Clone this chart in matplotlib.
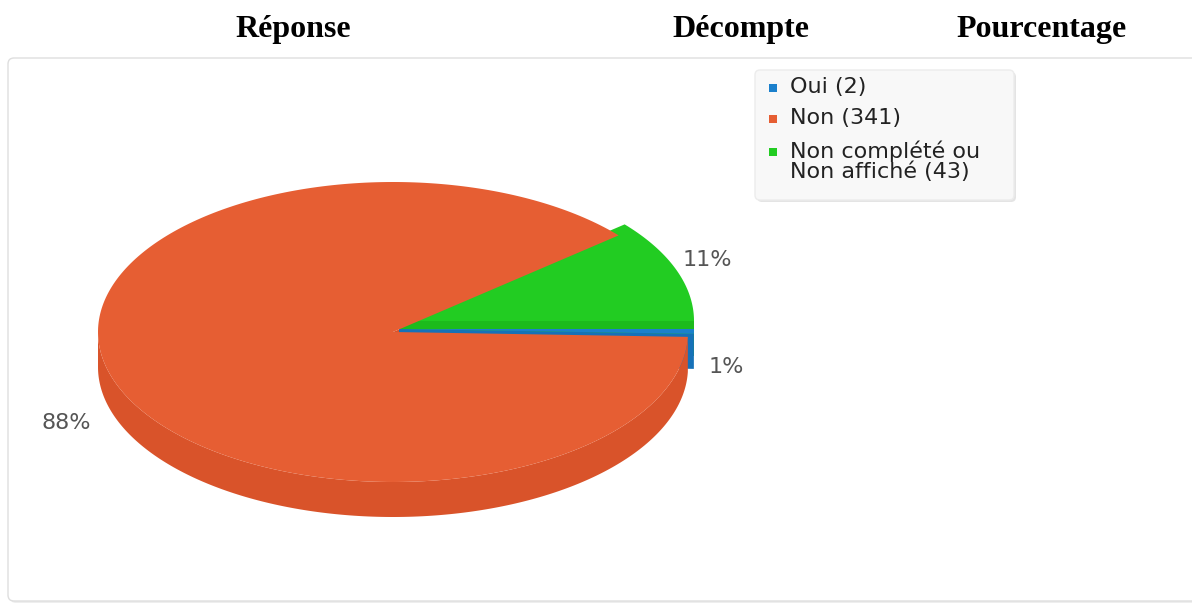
import numpy as np
import matplotlib.pyplot as plt
from matplotlib.patches import Polygon, FancyBboxPatch, Rectangle

# data
labels = ["Oui", "Non", "Non complété ou\nNon affiché"]
counts = [2, 341, 43]
colors = ["#1b80cc", "#e65e33", "#22cc22"]
side_colors = ["#1671b8", "#d9532a", "#1cbb1c"]
headers = ["Réponse", "Décompte", "Pourcentage"]
header_x = [293, 741, 1042]

# pie geometry (pixels)
cx, cy = 396, 329
rx, ry = 295, 150
depth = 35
# per-slice offset (sliced look), blue / orange / green
shifts = [(3, 0), (-3, 3), (3, -8)]

fig = plt.figure(figsize=(11.92, 6.07), dpi=100)
ax = fig.add_axes([0, 0, 1, 1])
ax.set_xlim(0, 1192)
ax.set_ylim(607, 0)
ax.axis('off')

# header row
for h, hx in zip(headers, header_x):
    ax.text(hx, 29, h, ha='center', va='center', fontsize=23, fontweight='bold',
            family='Liberation Serif', color='black')

# outer chart box
ax.add_patch(FancyBboxPatch((10, 60), 1200, 543, boxstyle="round,pad=0,rounding_size=6",
                            fc='#eeeeee', ec='none', zorder=0))
ax.add_patch(FancyBboxPatch((8, 58), 1200, 543, boxstyle="round,pad=0,rounding_size=6",
                            fc='white', ec='#dedede', lw=1, zorder=1))

total = sum(counts)
fracs = [c / total for c in counts]
angles = np.cumsum([0] + [f * 360 for f in fracs])


def pt(t, dx, dy):
    r = np.radians(t)
    return cx + dx + rx * np.cos(r), cy + dy + ry * np.sin(r)


wall_order = [1, 2, 0]  # orange wall is furthest back
top_order = [2, 0, 1]

# radial walls facing the viewer
for i in wall_order:
    dx, dy = shifts[i]
    a1 = angles[i + 1]
    if np.cos(np.radians(a1)) > 0:
        ex, ey = pt(a1, dx, dy)
        ax0, ay0 = cx + dx, cy + dy
        poly = [(ax0, ay0), (ex, ey), (ex, ey + depth), (ax0, ay0 + depth)]
        ax.add_patch(Polygon(poly, closed=True, fc=side_colors[i], ec='none', zorder=2))

# outer walls (front half only)
for i in top_order:
    dx, dy = shifts[i]
    a0, a1 = max(angles[i], 0), min(angles[i + 1], 180)
    if a1 <= a0:
        continue
    t = np.linspace(a0, a1, 200)
    xs, ys = pt(t, dx, dy)
    poly = list(zip(xs, ys)) + list(zip(xs[::-1], ys[::-1] + depth))
    ax.add_patch(Polygon(poly, closed=True, fc=side_colors[i], ec='none', zorder=3))

# top faces
for i in top_order:
    dx, dy = shifts[i]
    t = np.linspace(angles[i], angles[i + 1], 300)
    xs, ys = pt(t, dx, dy)
    poly = [(cx + dx, cy + dy)] + list(zip(xs, ys))
    ax.add_patch(Polygon(poly, closed=True, fc=colors[i], ec='none', zorder=4))

# percentage labels
pct = [f"{round(f * 100)}%" for f in fracs]
label_pos = [(709, 367, 'left'), (91, 423, 'right'), (683, 260, 'left')]
for p, (lx, ly, ha) in zip(pct, label_pos):
    ax.text(lx, ly, p, ha=ha, va='center', fontsize=16, color='#555555',
            family='DejaVu Sans', zorder=6)

# legend
ax.add_patch(FancyBboxPatch((757, 72), 259, 130, boxstyle="round,pad=0,rounding_size=5",
                            fc='#e4e4e4', ec='none', zorder=6))
ax.add_patch(FancyBboxPatch((755, 70), 259, 130, boxstyle="round,pad=0,rounding_size=5",
                            fc='#f8f8f8', ec='#ececec', lw=1, zorder=7))
leg_y = [88, 119, 152]
for lab, c, col, ly in zip(labels, counts, colors, leg_y):
    ax.add_patch(Rectangle((769, ly - 4), 8, 8, fc=col, ec='none', zorder=8))
    ax.text(790, ly - 11, f"{lab} ({c})", ha='left', va='top', fontsize=16,
            color='#222222', family='DejaVu Sans', linespacing=0.95, zorder=8)

fig.savefig("out.png", dpi=100)
